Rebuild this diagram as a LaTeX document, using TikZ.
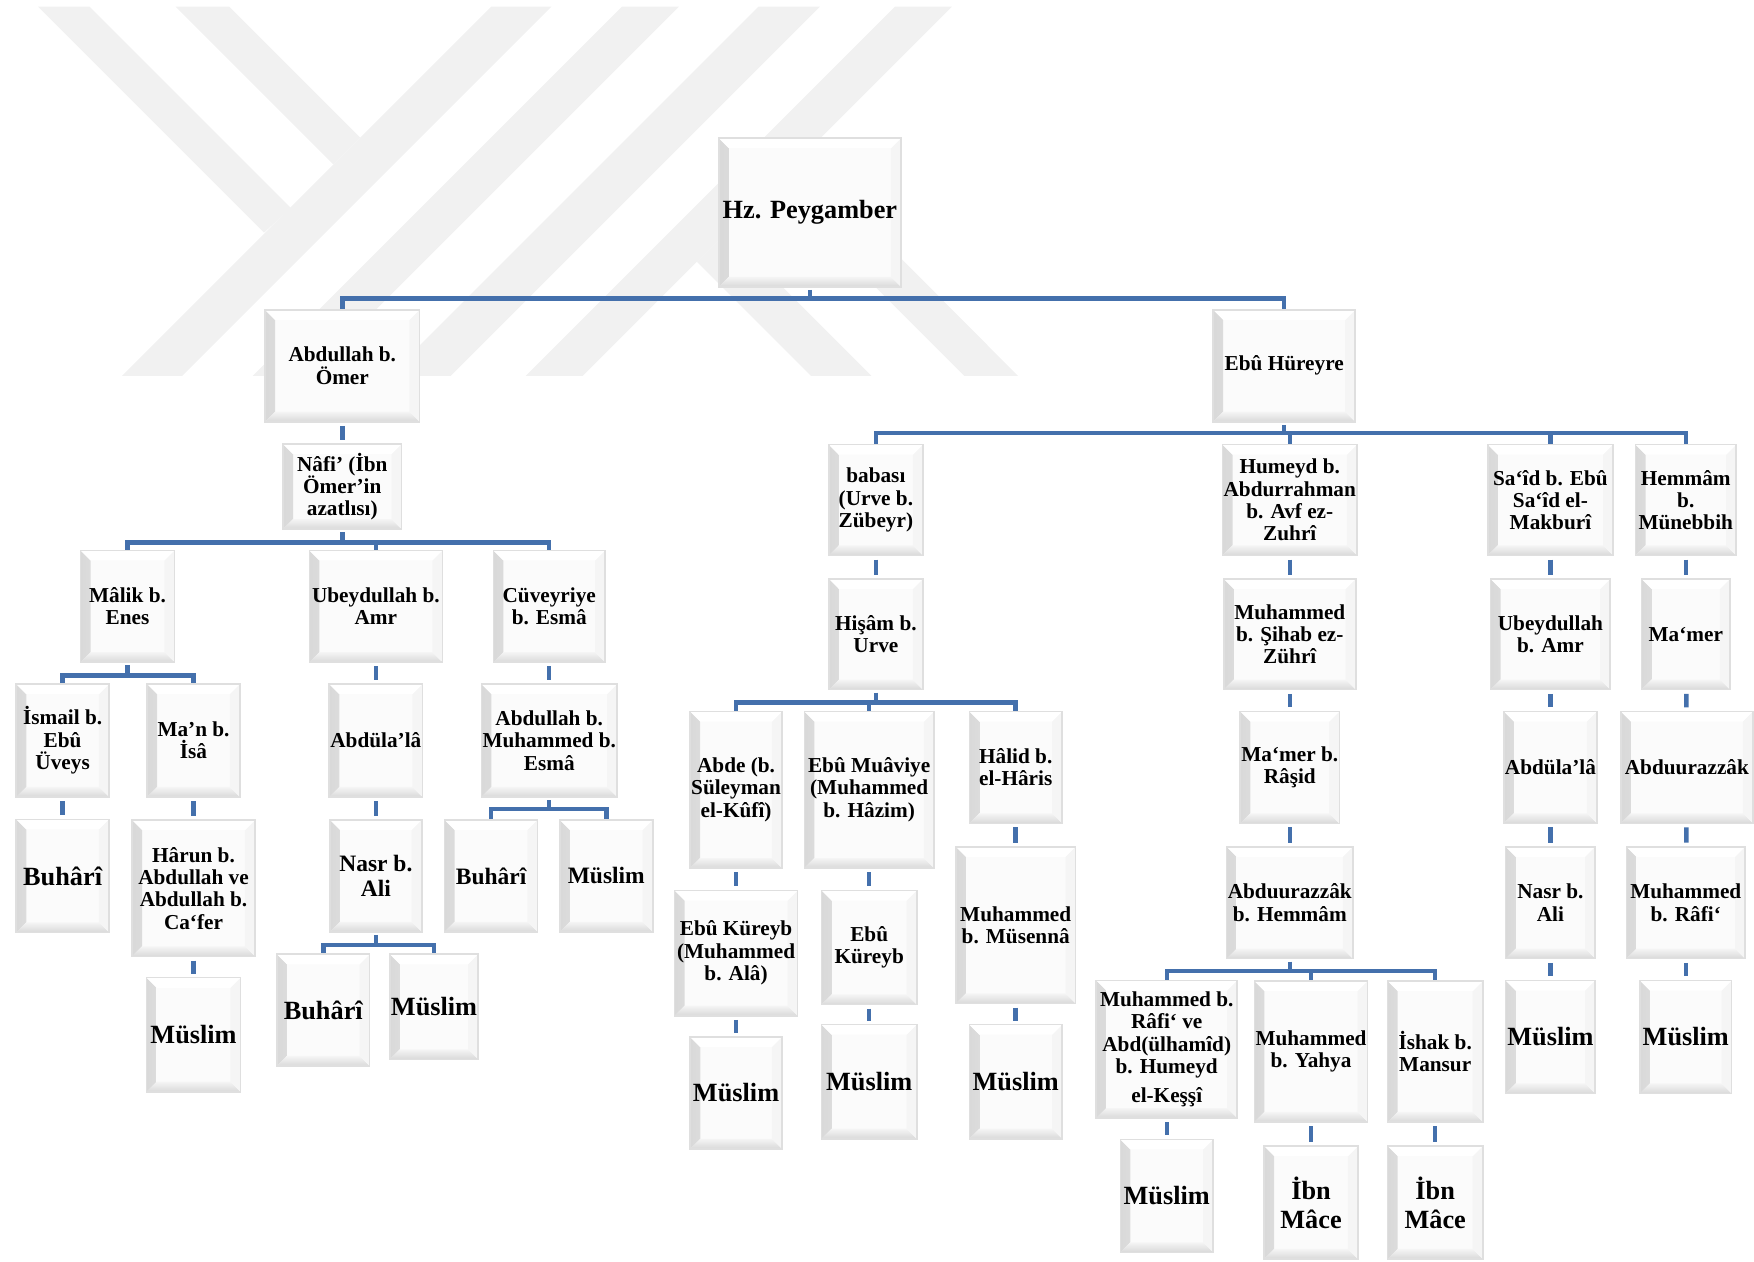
\documentclass[tikz,border=0pt]{standalone}
\usepackage{fontspec}
\setmainfont{Liberation Serif}
\definecolor{hat}{RGB}{68,112,172}
\definecolor{iz}{RGB}{241,241,241}
\def\kutubb{path picture bounding box}
\tikzset{
  kutu/.style={draw=gray!25, line width=1.4pt, fill=gray!3, align=center, inner sep=1pt,
    font=\fontsize{19}{20}\selectfont\bfseries,
    path picture={
      \shade[left color=gray!30, right color=gray!6] (\kutubb.north west) -- ([shift={(9pt,-9pt)}]\kutubb.north west)
        -- ([shift={(9pt,9pt)}]\kutubb.south west) -- (\kutubb.south west) -- cycle;
      \shade[top color=gray!8, bottom color=gray!30] (\kutubb.south west) -- ([shift={(9pt,9pt)}]\kutubb.south west)
        -- ([shift={(-9pt,9pt)}]\kutubb.south east) -- (\kutubb.south east) -- cycle;
      \fill[gray!8] (\kutubb.south east) -- ([shift={(-9pt,9pt)}]\kutubb.south east)
        -- ([shift={(-9pt,-9pt)}]\kutubb.north east) -- (\kutubb.north east) -- cycle;
      \fill[white] (\kutubb.north east) -- ([shift={(-9pt,-9pt)}]\kutubb.north east)
        -- ([shift={(9pt,-9pt)}]\kutubb.north west) -- (\kutubb.north west) -- cycle;
    }},
  boy/.style 2 args={minimum width=#1pt, minimum height=#2pt},
  buyuk/.style={font=\fontsize{23.5}{26}\selectfont\bfseries},
  orta/.style={font=\fontsize{21}{23}\selectfont\bfseries},
  bag/.style={draw=hat, line width=4pt},
  kisa/.style={bag, shorten <=3pt, shorten >=3pt}
}
\begin{document}
\begin{tikzpicture}[x=1pt,y=-1pt]
   \useasboundingbox (0,0) rectangle (1568,1128);
   % filigran
   \fill[iz] (34,6) -- (80,6) -- (260,186) -- (236,208) -- cycle;
   \fill[iz] (157,6) -- (205,6) -- (322,123) -- (298,147) -- cycle;
   \fill[iz] (439,6) -- (493,6) -- (163,336) -- (109,336) -- cycle;
   \fill[iz] (556,6) -- (607,6) -- (277,336) -- (226,336) -- cycle;
   \fill[iz] (678,6) -- (733,6) -- (403,336) -- (348,336) -- cycle;
   \fill[iz] (800,6) -- (851,6) -- (521,336) -- (470,336) -- cycle;
   \fill[iz] (650,207) -- (779,336) -- (725,336) -- (623,234) -- cycle;
   \fill[iz] (716,141) -- (910,336) -- (862,336) -- (691,165) -- cycle;

   \node[kutu,boy={163}{133},buyuk] (peygamber) at (724,190) {Hz. Peygamber};
   \node[kutu,boy={138}{100}] (abdullah) at (306,327) {Abdullah b.\\Ömer};
   \node[kutu,boy={127}{100}] (ebuhureyre) at (1148,327) {Ebû Hüreyre};

   \node[kutu,boy={106}{76}] (nafi) at (306,435) {Nâfi’ (İbn\\Ömer’in\\azatlısı)};
   \node[kutu,boy={84}{100}] (malik) at (114,542) {Mâlik b.\\Enes};
   \node[kutu,boy={119}{100}] (ubeydullahA) at (336,542) {Ubeydullah b.\\Amr};
   \node[kutu,boy={100}{100}] (cuveyriye) at (491,542) {Cüveyriye\\b. Esmâ};
   \node[kutu,boy={83}{101}] (ismail) at (56,662) {İsmail b.\\Ebû\\Üveys};
   \node[kutu,boy={83}{101}] (man) at (173,662) {Ma’n b.\\İsâ};
   \node[kutu,boy={83}{101},buyuk] (buhariA) at (56,783) {Buhârî};
   \node[kutu,boy={110}{122}] (harun) at (173,794) {Hârun b.\\Abdullah ve\\Abdullah b.\\Ca‘fer};
   \node[kutu,boy={84}{102},buyuk] (muslimA) at (173,925) {Müslim};
   \node[kutu,boy={82}{101}] (abdulalaA) at (336,662) {Abdüla’lâ};
   \node[kutu,boy={82}{100},orta] (nasrA) at (336,783) {Nasr b.\\Ali};
   \node[kutu,boy={83}{100},buyuk] (buhariB) at (289,903) {Buhârî};
   \node[kutu,boy={78}{94},buyuk] (muslimB) at (388,900) {Müslim};
   \node[kutu,boy={119}{101}] (abdullahM) at (491,662) {Abdullah b.\\Muhammed b.\\Esmâ};
   \node[kutu,boy={83}{100},orta] (buhariC) at (439,783) {Buhârî};
   \node[kutu,boy={83}{100},orta] (muslimC) at (542,783) {Müslim};

   \node[kutu,boy={84}{99}] (babasi) at (783,447) {babası\\(Urve b.\\Zübeyr)};
   \node[kutu,boy={118}{99}] (humeyd) at (1153,447) {Humeyd b.\\Abdurrahman\\b. Avf ez-\\Zuhrî};
   \node[kutu,boy={112}{99}] (said) at (1386,447) {Sa‘îd b. Ebû\\Sa‘îd el-\\Makburî};
   \node[kutu,boy={90}{99}] (hemmam) at (1507,447) {Hemmâm\\b.\\Münebbih};
   \node[kutu,boy={84}{99}] (hisam) at (783,567) {Hişâm b.\\Urve};
   \node[kutu,boy={118}{99}] (zuhri) at (1153,567) {Muhammed\\b. Şihab ez-\\Zührî};
   \node[kutu,boy={107}{99}] (ubeydullahB) at (1386,567) {Ubeydullah\\b. Amr};
   \node[kutu,boy={79}{99}] (mamer) at (1507,567) {Ma‘mer};

   \node[kutu,boy={82}{140}] (abde) at (658,706) {Abde (b.\\Süleyman\\el-Kûfî)};
   \node[kutu,boy={116}{140}] (muaviye) at (777,706) {Ebû Muâviye\\(Muhammed\\b. Hâzim)};
   \node[kutu,boy={83}{100}] (halid) at (908,686) {Hâlid b.\\el-Hâris};
   \node[kutu,boy={110}{112}] (kureybA) at (658,852) {Ebû Küreyb\\(Muhammed\\b. Alâ)};
   \node[kutu,boy={85}{102}] (kureybB) at (777,847) {Ebû\\Küreyb};
   \node[kutu,boy={107}{140}] (musenna) at (908,827) {Muhammed\\b. Müsennâ};
   \node[kutu,boy={82}{100},buyuk] (muslimD) at (658,977) {Müslim};
   \node[kutu,boy={85}{102},buyuk] (muslimE) at (777,967) {Müslim};
   \node[kutu,boy={83}{102},buyuk] (muslimF) at (908,967) {Müslim};

   \node[kutu,boy={85}{100}] (rasid) at (1153,686) {Ma‘mer b.\\Râşid};
   \node[kutu,boy={110}{100}] (razzakA) at (1153,807) {Abduurazzâk\\b. Hemmâm};
   \node[kutu,boy={126}{123}] (rafiA) at (1043,938) {Muhammed b.\\Râfi‘ ve\\Abd(ülhamîd)\\b. Humeyd\\[6pt]el-Keşşî};
   \node[kutu,boy={96}{126}] (yahya) at (1172,940) {Muhammed\\b. Yahya};
   \node[kutu,boy={85}{126}] (ishak) at (1283,940) {İshak b.\\Mansur};
   \node[kutu,boy={83}{101},buyuk] (muslimG) at (1043,1069) {Müslim};
   \node[kutu,boy={84}{101},buyuk] (ibnmaceA) at (1172,1075) {İbn\\Mâce};
   \node[kutu,boy={85}{101},buyuk] (ibnmaceB) at (1283,1075) {İbn\\Mâce};

   \node[kutu,boy={80}{100}] (abdulalaB) at (1386,686) {Abdüla’lâ};
   \node[kutu,boy={80}{100}] (nasrB) at (1386,807) {Nasr b.\\Ali};
   \node[kutu,boy={80}{101},buyuk] (muslimH) at (1386,927) {Müslim};
   \node[kutu,boy={118}{100}] (razzakB) at (1508,686) {Abduurazzâk};
   \node[kutu,boy={106}{100}] (rafiB) at (1507,807) {Muhammed\\b. Râfi‘};
   \node[kutu,boy={82}{101},buyuk] (muslimI) at (1507,927) {Müslim};

   \coordinate (hat0) at (724,267);
   \coordinate (hat1) at (306,485);
   \coordinate (hat2) at (114,604);
   \coordinate (hat3) at (336,845);
   \coordinate (hat4) at (491,723);
   \coordinate (hat5) at (1148,387);
   \coordinate (hat6) at (783,628);
   \coordinate (hat7) at (1153,868);

   \draw[bag,shorten <=2pt] (peygamber) -- (hat0);
   \foreach \c in {abdullah,ebuhureyre} \draw[bag] (hat0) -| (\c.north);
   \draw[bag,shorten <=2pt] (nafi) -- (hat1);
   \foreach \c in {malik,ubeydullahA,cuveyriye} \draw[bag] (hat1) -| (\c.north);
   \draw[bag,shorten <=2pt] (malik) -- (hat2);
   \foreach \c in {ismail,man} \draw[bag] (hat2) -| (\c.north);
   \draw[bag,shorten <=2pt] (nasrA) -- (hat3);
   \foreach \c in {buhariB,muslimB} \draw[bag] (hat3) -| (\c.north);
   \draw[bag,shorten <=2pt] (abdullahM) -- (hat4);
   \foreach \c in {buhariC,muslimC} \draw[bag] (hat4) -| (\c.north);
   \draw[bag,shorten <=2pt] (ebuhureyre) -- (hat5);
   \foreach \c in {babasi,humeyd,said,hemmam} \draw[bag] (hat5) -| (\c.north);
   \draw[bag,shorten <=2pt] (hisam) -- (hat6);
   \foreach \c in {abde,muaviye,halid} \draw[bag] (hat6) -| (\c.north);
   \draw[bag,shorten <=2pt] (razzakA) -- (hat7);
   \foreach \c in {rafiA,yahya,ishak} \draw[bag] (hat7) -| (\c.north);

   \draw[kisa] (abdullah) -- (nafi);
   \draw[kisa] (ismail) -- (buhariA);
   \draw[kisa] (man) -- (harun);
   \draw[kisa] (harun) -- (muslimA);
   \draw[kisa] (ubeydullahA) -- (abdulalaA);
   \draw[kisa] (abdulalaA) -- (nasrA);
   \draw[kisa] (cuveyriye) -- (abdullahM);
   \draw[kisa] (babasi) -- (hisam);
   \draw[kisa] (abde) -- (kureybA);
   \draw[kisa] (kureybA) -- (muslimD);
   \draw[kisa] (muaviye) -- (kureybB);
   \draw[kisa] (kureybB) -- (muslimE);
   \draw[kisa] (halid) -- (musenna);
   \draw[kisa] (musenna) -- (muslimF);
   \draw[kisa] (humeyd) -- (zuhri);
   \draw[kisa] (zuhri) -- (rasid);
   \draw[kisa] (rasid) -- (razzakA);
   \draw[kisa] (rafiA) -- (muslimG);
   \draw[kisa] (yahya) -- (ibnmaceA);
   \draw[kisa] (ishak) -- (ibnmaceB);
   \draw[kisa] (said) -- (ubeydullahB);
   \draw[kisa] (ubeydullahB) -- (abdulalaB);
   \draw[kisa] (abdulalaB) -- (nasrB);
   \draw[kisa] (nasrB) -- (muslimH);
   \draw[kisa] (hemmam) -- (mamer);
   \draw[kisa] (mamer) -- (razzakB);
   \draw[kisa] (razzakB) -- (rafiB);
   \draw[kisa] (rafiB) -- (muslimI);
\end{tikzpicture}
\end{document}
